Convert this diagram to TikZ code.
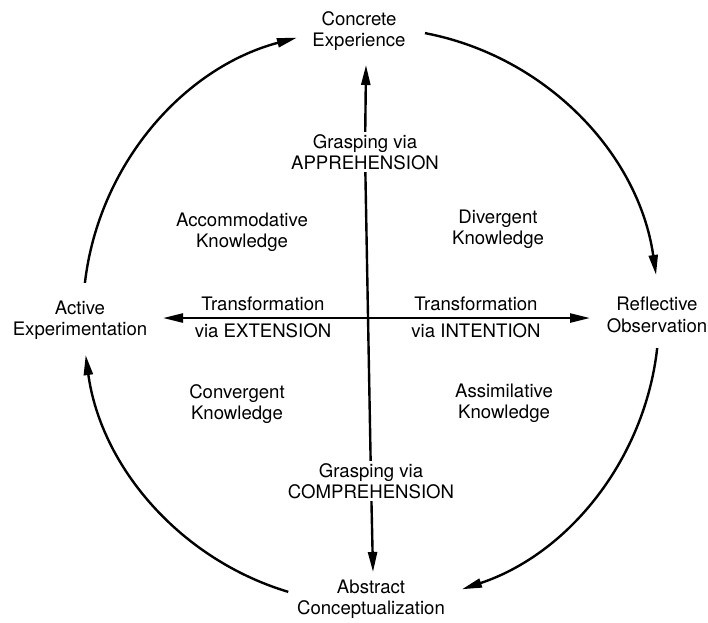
\documentclass[tikz,border=0pt]{standalone}
\usepackage{fontspec}
\setmainfont{TeX Gyre Heros}
\usetikzlibrary{arrows.meta}
\newcommand{\radiuscycle}{288pt}
\newcommand{\labelfont}{\fontsize{18.6}{21.5}\selectfont}
\tikzset{
    common/.style={align=center, inner sep=1pt, font=\labelfont},
    mode/.style={common},
    knowledge/.style={common},
    grasp/.style={common, inner sep=2pt},
    transform/.style={common},
    axis/.style={line width=2.4pt},
    axisarrow/.style={axis, -{Triangle[length=20pt, width=9pt]}},
    cyclearrow/.style={axisarrow}
}

\begin{document}
\begin{tikzpicture}[x=1pt, y=1pt]

      \useasboundingbox (0,0) rectangle (708,-622);

      % the four learning modes
      \node[mode] (ce) at (359,-31) {Concrete\\Experience};
      \node[mode] (ro) at (657,-315) {Reflective\\Observation};
      \node[mode] (ac) at (371,-599) {Abstract\\Conceptualization};
      \node[mode] (ae) at (80,-320) {Active\\Experimentation};

      % the four forms of knowledge
      \node[knowledge] (acc) at (242,-232) {Accommodative\\Knowledge};
      \node[knowledge] (div) at (498,-229) {Divergent\\Knowledge};
      \node[knowledge] (conv) at (237,-404) {Convergent\\Knowledge};
      \node[knowledge] (assim) at (504,-403) {Assimilative\\Knowledge};

      % grasping axis
      \node[grasp] (app) at (365,-152) {Grasping via\\APPREHENSION};
      \node[grasp] (comp) at (371,-481) {Grasping via\\COMPREHENSION};
      \coordinate (ce-tip) at (366,-65);
      \coordinate (ac-tip) at (373,-572);

      \draw[axisarrow] (app) -- (ce-tip);
      \draw[axis] (app) -- (comp);
      \draw[axisarrow] (comp) -- (ac-tip);

      % transformation axis
      \coordinate (o) at (369,-318);
      \coordinate (ae-tip) at (163,-318);
      \coordinate (ro-tip) at (590,-318);
      \node[transform] (ext) at (263,-317) {Transformation\\[5.5pt]via EXTENSION};
      \node[transform] (int) at (476,-317) {Transformation\\[5.5pt]via INTENTION};

      \draw[axisarrow] (o) -- (ae-tip);
      \draw[axisarrow] (o) -- (ro-tip);

      % the learning cycle
      \coordinate (c) at (371,-316);
      \coordinate (cyc-ae) at ([shift={(173.4:\radiuscycle)}]c);
      \coordinate (cyc-ce) at ([shift={(79.2:\radiuscycle)}]c);
      \coordinate (cyc-ro) at ([shift={(-6.4:\radiuscycle)}]c);
      \coordinate (cyc-ac) at ([shift={(-106.7:\radiuscycle)}]c);

      \draw[cyclearrow] (cyc-ae) arc[start angle=173.4, end angle=104.9, radius=\radiuscycle];
      \draw[cyclearrow] (cyc-ce) arc[start angle=79.2, end angle=8.2, radius=\radiuscycle];
      \draw[cyclearrow] (cyc-ro) arc[start angle=-6.4, end angle=-71.6, radius=\radiuscycle];
      \draw[cyclearrow] (cyc-ac) arc[start angle=-106.7, end angle=-172.2, radius=\radiuscycle];

    \end{tikzpicture}
\end{document}
